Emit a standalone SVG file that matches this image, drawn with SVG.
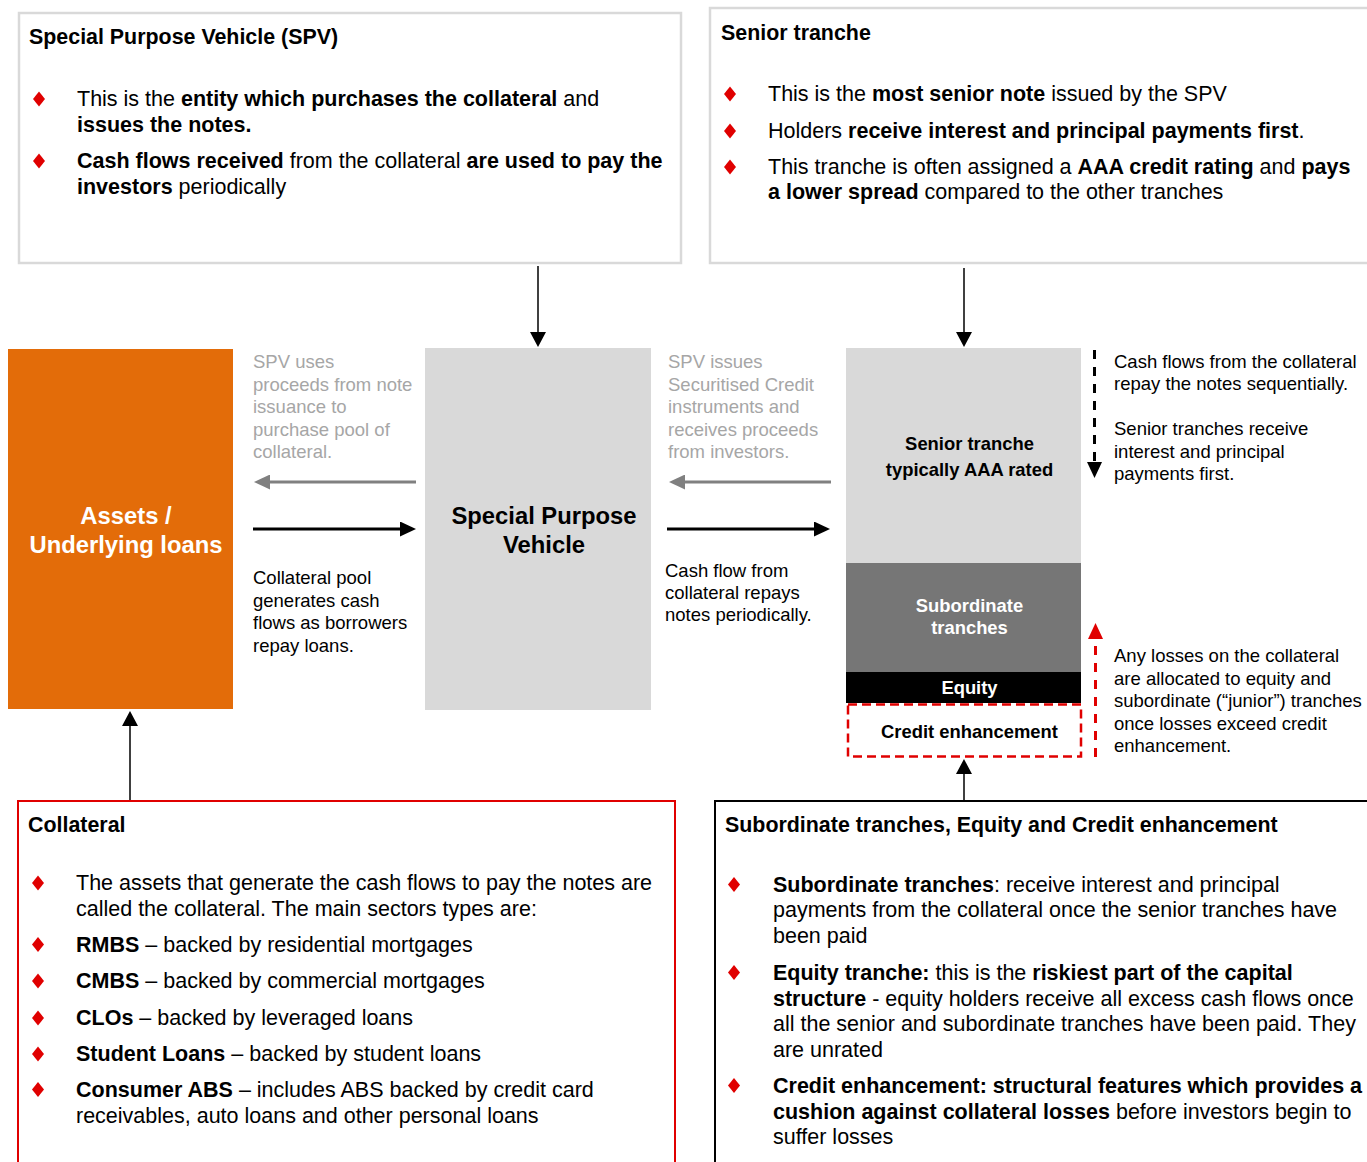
<svg xmlns="http://www.w3.org/2000/svg" width="1367" height="1162" viewBox="0 0 1367 1162">
<style>
text{font-family:"Liberation Sans",Arial,sans-serif;fill:#000}
.body{font-size:21.5px}
.t{font-size:21.4px;font-weight:bold}
.b{font-weight:bold}
.sm{font-size:18.5px}
.gr{fill:#a6a6a6}
.w{fill:#fff}
.tr{font-size:18.4px;font-weight:bold;text-anchor:middle}
.big{font-size:23.8px;font-weight:bold;text-anchor:middle}
.info{fill:#fff;stroke:#d9d9d9;stroke-width:2.5}
.thin{stroke:#000;stroke-width:1.5;fill:none}
</style>
<defs>
<path id="dia" d="M0,-7.5 L6,0 L0,7.5 L-6,0Z" fill="#e00000"/>
<marker id="ahB" markerUnits="userSpaceOnUse" markerWidth="16" markerHeight="15" refX="5" refY="7.5" orient="auto"><path d="M0,0 L16,7.5 L0,15Z" fill="#000"/></marker>
<marker id="ahG" markerUnits="userSpaceOnUse" markerWidth="16" markerHeight="15" refX="5" refY="7.5" orient="auto"><path d="M0,0 L16,7.5 L0,15Z" fill="#808080"/></marker>
<marker id="ahR" markerUnits="userSpaceOnUse" markerWidth="16" markerHeight="15" refX="3" refY="7.5" orient="auto"><path d="M0,0 L16,7.5 L0,15Z" fill="#e00000"/></marker>
<marker id="ahT" markerUnits="userSpaceOnUse" markerWidth="15" markerHeight="16" refX="1" refY="8" orient="auto"><path d="M0,0 L15,8 L0,16Z" fill="#000"/></marker>
</defs>

<g id="spv-info">
<rect class="info" x="19" y="13" width="662" height="250"/>
<text class="t" x="29" y="44">Special Purpose Vehicle (SPV)</text>
<use href="#dia" x="39" y="99"/>
<use href="#dia" x="39" y="161"/>
<text class="body" x="77" y="106">This is the <tspan class="b">entity which purchases the collateral</tspan> and</text>
<text class="body" x="77" y="132"><tspan class="b">issues the notes.</tspan></text>
<text class="body" x="77" y="168"><tspan class="b">Cash flows received</tspan> from the collateral <tspan class="b">are used to pay the</tspan></text>
<text class="body" x="77" y="193.5"><tspan class="b">investors</tspan> periodically</text>
</g>

<g id="senior-info">
<rect class="info" x="710" y="8" width="680" height="255"/>
<text class="t" x="721" y="39.5">Senior tranche</text>
<use href="#dia" x="730" y="94"/>
<use href="#dia" x="730" y="131"/>
<use href="#dia" x="730" y="167"/>
<text class="body" x="768" y="101">This is the <tspan class="b">most senior note</tspan> issued by the SPV</text>
<text class="body" x="768" y="138">Holders <tspan class="b">receive interest and principal payments first</tspan>.</text>
<text class="body" x="768" y="173.5">This tranche is often assigned a <tspan class="b">AAA credit rating</tspan> and <tspan class="b">pays</tspan></text>
<text class="body" x="768" y="198.5"><tspan class="b">a lower spread</tspan> compared to the other tranches</text>
</g>

<g id="assets">
<rect x="8" y="349" width="225" height="360" fill="#e36c09"/>
<text class="big w" x="126" y="523.5">Assets /</text>
<text class="big w" x="126" y="552.5">Underlying loans</text>
</g>

<g id="spv">
<rect x="425" y="348" width="226" height="362" fill="#d9d9d9"/>
<text class="big" x="544" y="524">Special Purpose</text>
<text class="big" x="544" y="553">Vehicle</text>
</g>

<g id="label-left">
<text class="sm gr" x="253" y="368">SPV uses</text>
<text class="sm gr" x="253" y="390.5">proceeds from note</text>
<text class="sm gr" x="253" y="413">issuance to</text>
<text class="sm gr" x="253" y="435.5">purchase pool of</text>
<text class="sm gr" x="253" y="458">collateral.</text>
<text class="sm" x="253" y="584">Collateral pool</text>
<text class="sm" x="253" y="606.5">generates cash</text>
<text class="sm" x="253" y="629">flows as borrowers</text>
<text class="sm" x="253" y="651.5">repay loans.</text>
</g>

<g id="label-right">
<text class="sm gr" x="668" y="368">SPV issues</text>
<text class="sm gr" x="668" y="390.5">Securitised Credit</text>
<text class="sm gr" x="668" y="413">instruments and</text>
<text class="sm gr" x="668" y="435.5">receives proceeds</text>
<text class="sm gr" x="668" y="458">from investors.</text>
<text class="sm" x="665" y="577">Cash flow from</text>
<text class="sm" x="665" y="599">collateral repays</text>
<text class="sm" x="665" y="621">notes periodically.</text>
</g>

<g id="tranches">
<rect x="846" y="348" width="235" height="215" fill="#d9d9d9"/>
<text class="tr" x="969.5" y="450">Senior tranche</text>
<text class="tr" x="969.5" y="476">typically  AAA rated</text>
<rect x="846" y="563" width="235" height="109" fill="#767676"/>
<text class="tr w" x="969.5" y="612">Subordinate</text>
<text class="tr w" x="969.5" y="634">tranches</text>
<rect x="846" y="672" width="235" height="31" fill="#000"/>
<text class="tr w" x="969.5" y="694">Equity</text>
</g>

<g id="credit-enhancement">
<rect x="848" y="704.5" width="233" height="52" fill="none" stroke="#e00000" stroke-width="2.5" stroke-dasharray="9,5"/>
<text class="tr" x="969.5" y="737.5">Credit enhancement</text>
</g>

<g id="label-tranches">
<text class="sm" x="1114" y="367.5">Cash flows from the collateral</text>
<text class="sm" x="1114" y="390">repay the notes sequentially.</text>
<text class="sm" x="1114" y="435">Senior tranches receive</text>
<text class="sm" x="1114" y="457.5">interest and principal</text>
<text class="sm" x="1114" y="480">payments first.</text>
<text class="sm" x="1114" y="662">Any losses on the collateral</text>
<text class="sm" x="1114" y="684.5">are allocated to equity and</text>
<text class="sm" x="1114" y="707">subordinate (“junior”) tranches</text>
<text class="sm" x="1114" y="729.5">once losses exceed credit</text>
<text class="sm" x="1114" y="752">enhancement.</text>
</g>

<g id="collateral-info">
<rect x="18" y="801" width="657" height="380" fill="#fff" stroke="#e00000" stroke-width="2"/>
<text class="t" x="28" y="831.5">Collateral</text>
<use href="#dia" x="38" y="883"/>
<use href="#dia" x="38" y="944.5"/>
<use href="#dia" x="38" y="981"/>
<use href="#dia" x="38" y="1018"/>
<use href="#dia" x="38" y="1054"/>
<use href="#dia" x="38" y="1089.5"/>
<text class="body" x="76" y="890">The assets that generate the cash flows to pay the notes are</text>
<text class="body" x="76" y="915.5">called the collateral. The main sectors types are:</text>
<text class="body" x="76" y="951.5"><tspan class="b">RMBS</tspan> – backed by residential mortgages</text>
<text class="body" x="76" y="988"><tspan class="b">CMBS</tspan> – backed by commercial mortgages</text>
<text class="body" x="76" y="1025"><tspan class="b">CLOs</tspan> – backed by leveraged loans</text>
<text class="body" x="76" y="1061"><tspan class="b">Student Loans</tspan> – backed by student loans</text>
<text class="body" x="76" y="1096.5"><tspan class="b">Consumer ABS</tspan> – includes ABS backed by credit card</text>
<text class="body" x="76" y="1122.5">receivables, auto loans and other personal loans</text>
</g>

<g id="subordinate-info">
<rect x="715" y="801" width="680" height="380" fill="#fff" stroke="#000" stroke-width="2"/>
<text class="t" x="725" y="831.5">Subordinate tranches, Equity and Credit enhancement</text>
<use href="#dia" x="734" y="884.5"/>
<use href="#dia" x="734" y="972.5"/>
<use href="#dia" x="734" y="1085.5"/>
<text class="body" x="773" y="891.5"><tspan class="b">Subordinate tranches</tspan>: receive interest and principal</text>
<text class="body" x="773" y="917">payments from the collateral once the senior tranches have</text>
<text class="body" x="773" y="943">been paid</text>
<text class="body" x="773" y="980"><tspan class="b">Equity tranche:</tspan> this is the <tspan class="b">riskiest part of the capital</tspan></text>
<text class="body" x="773" y="1005.5"><tspan class="b">structure</tspan> - equity holders receive all excess cash flows once</text>
<text class="body" x="773" y="1031">all the senior and subordinate tranches have been paid. They</text>
<text class="body" x="773" y="1056.5">are unrated</text>
<text class="body" x="773" y="1093"><tspan class="b">Credit enhancement: structural features which provides a</tspan></text>
<text class="body" x="773" y="1118.5"><tspan class="b">cushion against collateral losses</tspan> before investors begin to</text>
<text class="body" x="773" y="1144">suffer losses</text>
</g>

<g id="connectors">
<line class="thin" x1="538" y1="266" x2="538" y2="333" marker-end="url(#ahT)"/>
<line class="thin" x1="964" y1="268" x2="964" y2="333" marker-end="url(#ahT)"/>
<line class="thin" x1="130" y1="800" x2="130" y2="725" marker-end="url(#ahT)"/>
<line class="thin" x1="964" y1="800" x2="964" y2="773" marker-end="url(#ahT)"/>
<line x1="416" y1="482" x2="265" y2="482" stroke="#808080" stroke-width="3" marker-end="url(#ahG)"/>
<line x1="253" y1="529" x2="405" y2="529" stroke="#000" stroke-width="3" marker-end="url(#ahB)"/>
<line x1="831" y1="482" x2="680" y2="482" stroke="#808080" stroke-width="3" marker-end="url(#ahG)"/>
<line x1="667" y1="529" x2="819" y2="529" stroke="#000" stroke-width="3" marker-end="url(#ahB)"/>
<line x1="1094.5" y1="350" x2="1094.5" y2="467" stroke="#000" stroke-width="3" stroke-dasharray="9,8" marker-end="url(#ahB)"/>
<line x1="1095.5" y1="757" x2="1095.5" y2="636" stroke="#e00000" stroke-width="3" stroke-dasharray="9,8" marker-end="url(#ahR)"/>
</g>
</svg>
